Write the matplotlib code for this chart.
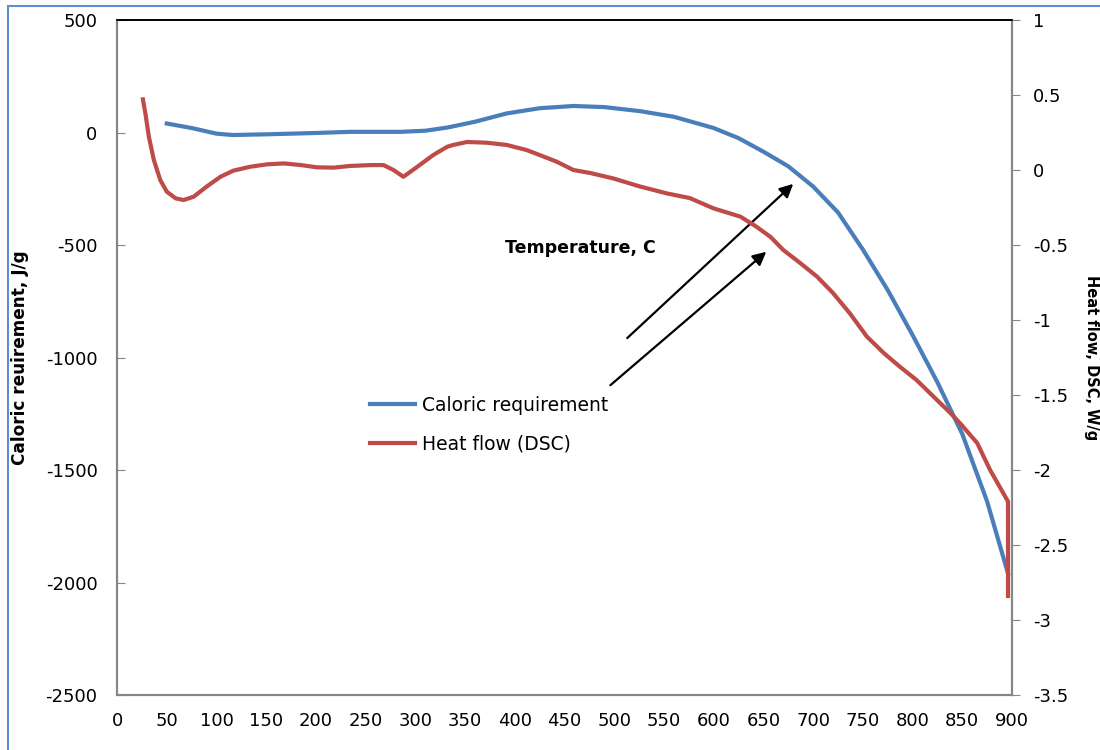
import matplotlib.pyplot as plt
from matplotlib.patches import Rectangle

plt.rcParams['axes.unicode_minus'] = False
plt.rcParams['font.family'] = ['DejaVu Sans']

# caloric requirement, J/g (left axis)
temp_cal = [50, 75, 100, 116, 150, 200, 234, 285, 310, 332, 360, 392, 425,
            459, 490, 526, 560, 600, 625, 650, 675, 700, 725, 750, 775, 800,
            825, 850, 875, 896]
caloric = [40, 20, -5, -11, -8, -2, 3, 3, 8, 22, 48, 85, 108,
           118, 113, 95, 70, 20, -25, -85, -150, -240, -355, -520, -700, -900,
           -1110, -1340, -1640, -1960]

# DSC heat flow, W/g (right axis)
temp_dsc = [26, 28.5, 32, 37, 43.5, 50, 59, 67, 77, 90, 104, 117, 134, 151,
            168, 185, 201, 218, 234, 255, 268, 278, 288, 302, 318, 332, 338,
            352, 372, 392, 412, 425, 442, 459, 476, 499, 526, 553, 576, 600,
            627, 643, 657, 670, 687, 704, 720, 737, 754, 771, 787, 804, 821,
            838, 848, 865, 878, 896, 896]
heat_flow = [0.471, 0.378, 0.222, 0.067, -0.067, -0.144, -0.189, -0.2, -0.178,
             -0.111, -0.045, -0.004, 0.022, 0.038, 0.044, 0.033, 0.018, 0.016,
             0.027, 0.033, 0.033, 0.0, -0.045, 0.022, 0.1, 0.155, 0.167, 0.187,
             0.182, 0.167, 0.133, 0.1, 0.056, 0.0, -0.02, -0.056, -0.11, -0.156,
             -0.187, -0.256, -0.311, -0.378, -0.445, -0.533, -0.62, -0.711, -0.82,
             -0.956, -1.11, -1.22, -1.31, -1.4, -1.51, -1.62, -1.69, -1.82, -2.0,
             -2.21, -2.84]

x_ticks = list(range(0, 901, 50))
left_ticks = list(range(-2500, 501, 500))
right_ticks = [-3.5, -3, -2.5, -2, -1.5, -1, -0.5, 0, 0.5, 1]

blue = '#4a7ebb'
red = '#be4b48'
grey = '#868686'

fig = plt.figure(figsize=(11, 7.5), dpi=100)
ax1 = fig.add_axes([0.1064, 0.0733, 0.8136, 0.9])
ax2 = ax1.twinx()

l1, = ax1.plot(temp_cal, caloric, color=blue, lw=3, label='Caloric requirement',
               solid_joinstyle='round')
l2, = ax2.plot(temp_dsc, heat_flow, color=red, lw=3, label='Heat flow (DSC)',
               solid_joinstyle='round')

ax1.set_xlim(0, 900)
ax1.set_ylim(-2500, 500)
ax2.set_ylim(-3.5, 1)
ax1.set_xticks(x_ticks)
ax1.set_yticks(left_ticks)
ax2.set_yticks(right_ticks)
ax2.set_yticklabels([f'{v:g}' for v in right_ticks])

ax1.tick_params(axis='x', length=0, pad=12, labelsize=13)
ax1.tick_params(axis='y', direction='in', length=6, color=grey, pad=14, labelsize=13)
ax2.tick_params(axis='y', direction='out', length=6, color=grey, pad=9, labelsize=13)

for ax in (ax1, ax2):
    for side in ('left', 'right', 'bottom'):
        ax.spines[side].set_color(grey)
        ax.spines[side].set_linewidth(1.5)
    ax.spines['top'].set_color('black')
    ax.spines['top'].set_linewidth(1.2)

ax1.set_ylabel('Caloric reuirement, J/g', fontsize=12.2, fontweight='bold', labelpad=12)
ax2.set_ylabel('Heat flow, DSC, W/g', fontsize=10.5, fontweight='bold', rotation=-90, labelpad=22)
ax1.text(466, -513, 'Temperature, C', fontsize=12.5, fontweight='bold', ha='center', va='center')

# arrows pointing at the two curves
ax1.annotate('', xy=(682, -220), xytext=(511, -922),
             arrowprops=dict(arrowstyle='-|>', color='black', lw=1.6, mutation_scale=20))
ax1.annotate('', xy=(655, -522), xytext=(494, -1131),
             arrowprops=dict(arrowstyle='-|>', color='black', lw=1.6, mutation_scale=20))

fig.legend(handles=[l1, l2], loc='upper left', bbox_to_anchor=(0.336, 0.472),
           frameon=False, fontsize=13.5, handlelength=2.4, handletextpad=0.4,
           labelspacing=1.05, borderpad=0, borderaxespad=0)

# outer frame
fig.add_artist(Rectangle((8 / 1100, -0.2), 1.2, 1.2 - 6 / 750, transform=fig.transFigure,
                         fill=False, edgecolor='#5b8fd1', lw=1.5, clip_on=False))

fig.savefig('out.png', dpi=100)
